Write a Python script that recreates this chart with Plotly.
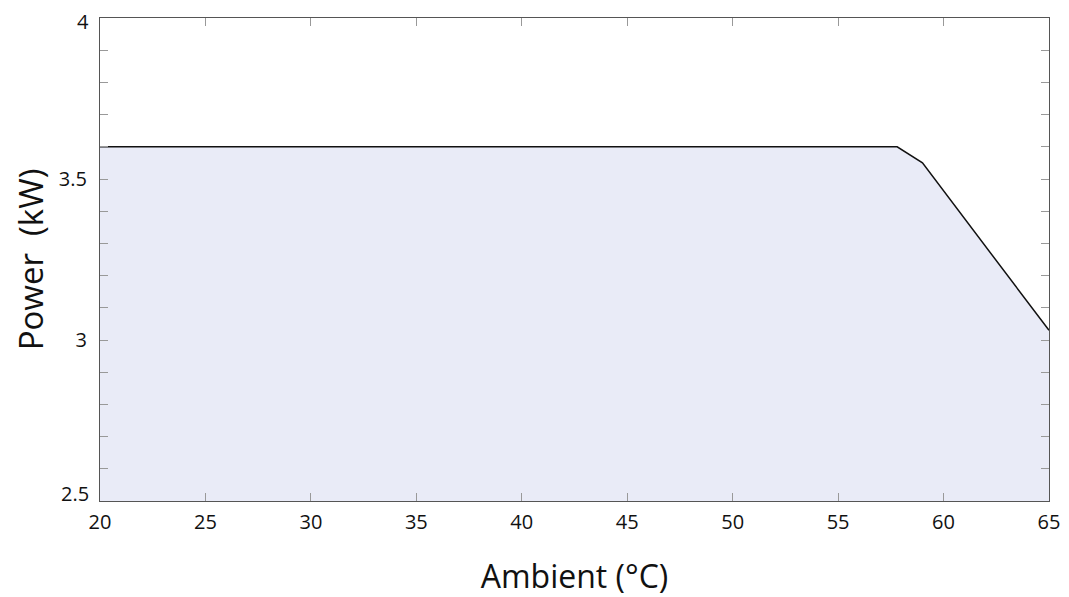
import plotly.graph_objects as go

ambient = [20, 57.8, 59, 65]
power = [3.6, 3.6, 3.55, 3.03]
x_ticks = [20, 25, 30, 35, 40, 45, 50, 55, 60, 65]
y_ticks = [2.5, 3, 3.5, 4]
y_ticktext = ["2.5", "3", "3.5", "4"]

fig = go.Figure()
fig.add_trace(go.Scatter(
    x=ambient, y=power, mode="lines", fill="tozeroy",
    fillcolor="#e9ebf7", line=dict(color="#111111", width=1.5),
    showlegend=False,
))

font_family = "Open Sans, Lato, sans-serif"
fig.update_layout(
    width=1061, height=589,
    margin=dict(l=92, r=20, t=10, b=96),
    plot_bgcolor="white", paper_bgcolor="white",
    font=dict(family=font_family, color="#111111"),
)
fig.update_xaxes(
    range=[20, 65], tickvals=x_ticks, ticktext=[str(v) for v in x_ticks],
    ticks="inside", ticklen=8, tickcolor="#999999", tickwidth=1,
    showline=True, linecolor="#555555", linewidth=1.2, mirror="ticks",
    showgrid=False, zeroline=False, automargin=False,
    tickfont=dict(size=20), ticklabelstandoff=3, ticklabeloverflow="allow",
    title=dict(text="Ambient (°C)", font=dict(size=32), standoff=32),
)
# interior y tick labels drawn by the axis; the two end labels are nudged
# inward (as in the reference) via annotations
fig.update_yaxes(
    range=[2.5, 4], tickvals=y_ticks,
    ticktext=[t if 0 < i < len(y_ticks) - 1 else "" for i, t in enumerate(y_ticktext)],
    ticks="inside", ticklen=8, tickcolor="#999999", tickwidth=1,
    minor=dict(dtick=0.1, tick0=2.5, ticks="inside", ticklen=8, tickcolor="#999999", tickwidth=1, showgrid=False),
    showline=True, linecolor="#555555", linewidth=1.2, mirror="ticks",
    showgrid=False, zeroline=False, automargin=False,
    tickfont=dict(size=20), ticklabelstandoff=8, ticklabeloverflow="allow",
    title=dict(text="Power\u00a0\u00a0(kW)", font=dict(size=33), standoff=21),
)
for val, txt, shift in [(y_ticks[0], y_ticktext[0], 8), (y_ticks[-1], y_ticktext[-1], -3)]:
    fig.add_annotation(
        xref="paper", yref="y", x=0, y=val, text=txt, showarrow=False,
        xanchor="right", yanchor="middle", xshift=-9, yshift=shift,
        font=dict(size=20, family=font_family, color="#111111"),
    )

fig.write_html("out.html")
